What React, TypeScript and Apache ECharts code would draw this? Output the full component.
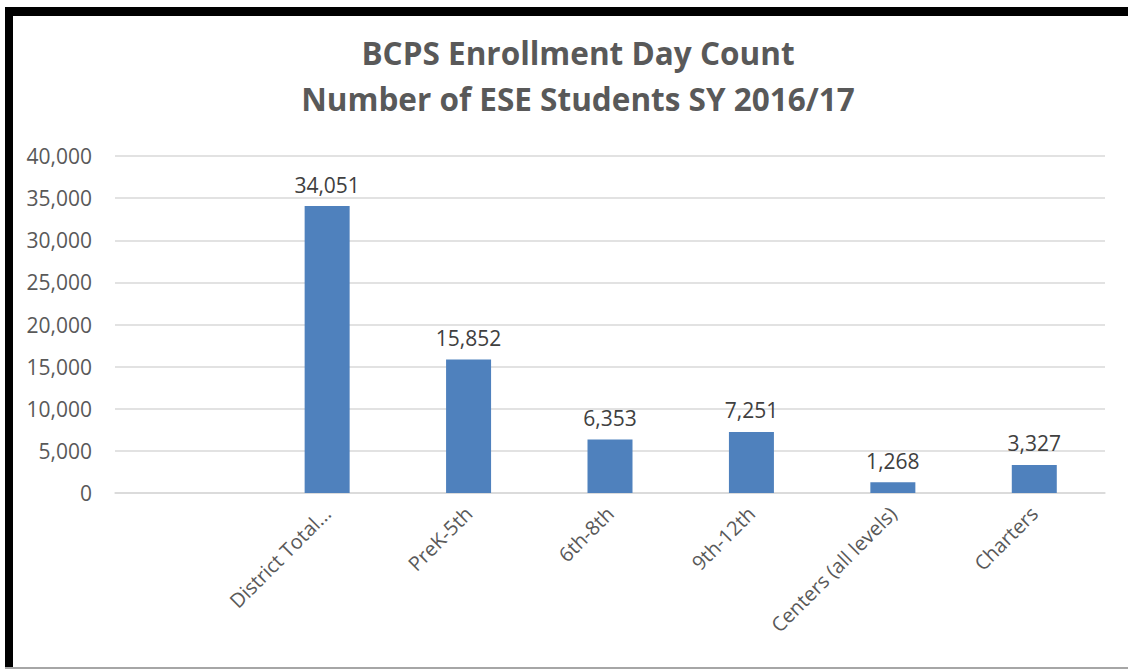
import React, { useEffect, useRef } from "react";
import * as echarts from "echarts";

const categories = ["", "District Total...", "PreK-5th", "6th-8th", "9th-12th", "Centers (all levels)", "Charters"];
const students = [null, 34051, 15852, 6353, 7251, 1268, 3327];
const yTicks = { min: 0, max: 40000, interval: 5000 };
const titleLines = ["BCPS Enrollment Day Count", "Number of ESE Students SY 2016/17"];

const FONT = "'Open Sans', 'Noto Sans', sans-serif";

export default function App() {
  const ref = useRef<HTMLDivElement>(null);
  useEffect(() => {
    if (!ref.current) return;
    const chart = echarts.init(ref.current, undefined, { renderer: "svg" });
    chart.setOption({
      animation: false,
      backgroundColor: "#ffffff",
      title: {
        text: titleLines.join("\n"),
        left: 573,
        textAlign: "center",
        top: 24,
        textStyle: { fontFamily: FONT, fontSize: 31.5, fontWeight: "bold", color: "#595959", lineHeight: 46 },
      },
      graphic: [
        { type: "rect", shape: { x: 5, y: 7, width: 1123, height: 9 }, style: { fill: "#000" } },
        { type: "rect", shape: { x: 5, y: 7, width: 8, height: 662 }, style: { fill: "#000" } },
        { type: "rect", shape: { x: 5, y: 667, width: 1123, height: 2 }, style: { fill: "#a6a6a6" } },
      ],
      grid: { left: 115, right: 23, top: 156, bottom: 176, containLabel: false },
      xAxis: {
        type: "category",
        data: categories,
        axisLine: { show: true, lineStyle: { color: "#d9d9d9", width: 1.5 } },
        axisTick: { show: false },
        axisLabel: { rotate: 45, fontFamily: FONT, fontSize: 20, color: "#595959", margin: 17, interval: 0 },
      },
      yAxis: {
        type: "value",
        min: yTicks.min,
        max: yTicks.max,
        interval: yTicks.interval,
        axisLine: { show: false },
        axisTick: { show: false },
        splitLine: { lineStyle: { color: "#d9d9d9", width: 1.5 } },
        axisLabel: {
          fontFamily: FONT,
          fontSize: 21,
          color: "#595959",
          margin: 23,
          formatter: (v: number) => v.toLocaleString("en-US"),
        },
      },
      series: [
        {
          type: "bar",
          data: students,
          barWidth: 45,
          itemStyle: { color: "#4f81bd" },
          label: {
            show: true,
            position: "top",
            distance: 11,
            fontFamily: FONT,
            fontSize: 21,
            color: "#404040",
            formatter: (p: any) => (p.value == null ? "" : Number(p.value).toLocaleString("en-US")),
          },
        },
      ],
    });
    return () => chart.dispose();
  }, []);
  return (
    <div style={{ position: "fixed", left: 0, top: 0, width: 1128, height: 669, background: "#fff" }}>
      <div ref={ref} style={{ width: 1128, height: 669 }} />
    </div>
  );
}
